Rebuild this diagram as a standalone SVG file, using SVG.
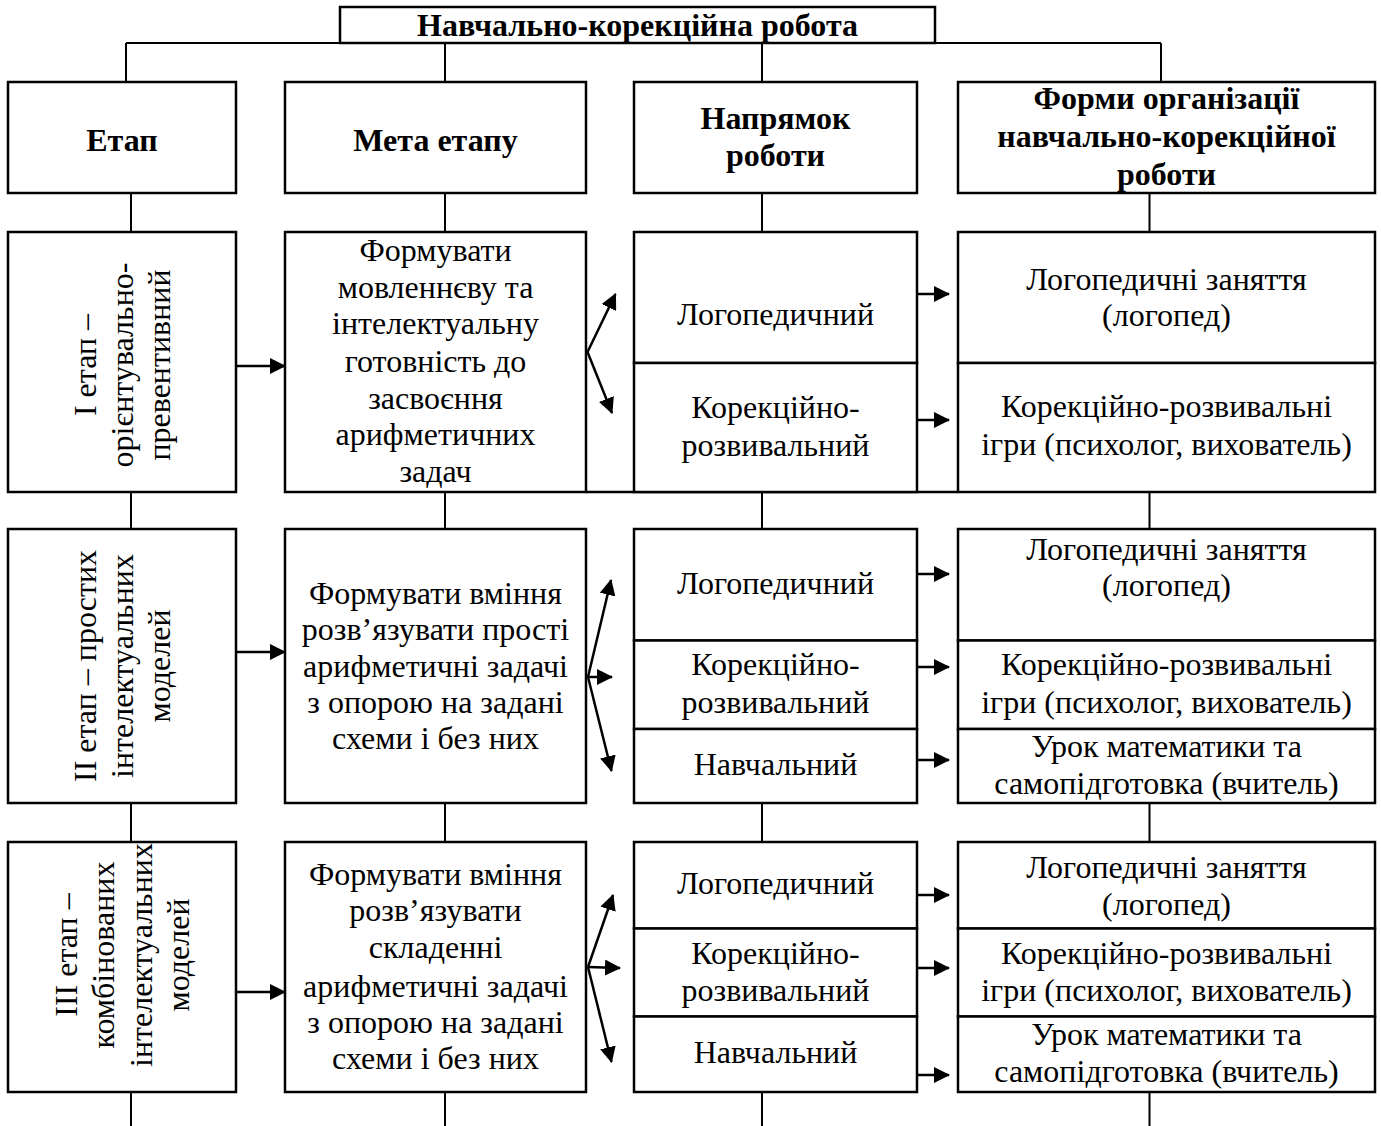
<svg xmlns="http://www.w3.org/2000/svg" width="1381" height="1126" viewBox="0 0 1381 1126">
<style>
.box{fill:#fff;stroke:#000;stroke-width:2.5}
.ln{stroke:#000;stroke-width:2;fill:none}
.ar{stroke:#000;stroke-width:2.5;fill:none;marker-end:url(#ah)}
text{font-family:"Liberation Serif","Times New Roman",serif;font-size:32px;fill:#000;text-anchor:middle}
.b{font-weight:bold}
</style>
<defs>
<marker id="ah" markerWidth="16" markerHeight="16" refX="15" refY="8" orient="auto" markerUnits="userSpaceOnUse"><path d="M0,0 L16,8 L0,16 z" fill="#000"/></marker>
</defs>
<rect width="1381" height="1126" fill="#fff"/>
<g id="connectors">
<path class="ln" d="M126,43 H1161 M126,43 V82 M445,43 V82 M762,43 V82 M1161,43 V82"/>
<path class="ln" d="M131,193 V232 M445,193 V232 M762,193 V232 M1149.5,193 V232"/>
<path class="ln" d="M131,492 V529 M445,492 V529 M762,492 V529 M1149.5,492 V529"/>
<path class="ln" d="M131,803 V842 M445,803 V842 M762,803 V842 M1149.5,803 V842"/>
<path class="ln" d="M131,1092 V1126 M445,1092 V1126 M762,1092 V1126 M1149.5,1092 V1126"/>
<path class="ln" d="M586,492 H958" style="stroke-width:2.5"/>
<line class="ar" x1="236" y1="366" x2="285" y2="366"/>
<line class="ar" x1="236" y1="652" x2="285" y2="652"/>
<line class="ar" x1="236" y1="992" x2="285" y2="992"/>
<line class="ar" x1="587.5" y1="352" x2="615.5" y2="294"/>
<line class="ar" x1="587.5" y1="352" x2="612" y2="413"/>
<line class="ar" x1="588" y1="677" x2="611" y2="580"/>
<line class="ar" x1="588" y1="677" x2="612" y2="677"/>
<line class="ar" x1="588" y1="677" x2="611.5" y2="771"/>
<line class="ar" x1="588" y1="967" x2="613" y2="895"/>
<line class="ar" x1="588" y1="967" x2="620" y2="968"/>
<line class="ar" x1="588" y1="967" x2="611.5" y2="1062"/>
<line class="ar" x1="918" y1="294" x2="949" y2="294"/>
<line class="ar" x1="918" y1="420" x2="949" y2="420"/>
<line class="ar" x1="918" y1="574" x2="949" y2="574"/>
<line class="ar" x1="918" y1="667" x2="949" y2="667"/>
<line class="ar" x1="918" y1="760" x2="949" y2="760"/>
<line class="ar" x1="918" y1="895" x2="949" y2="895"/>
<line class="ar" x1="918" y1="968" x2="949" y2="968"/>
<line class="ar" x1="918" y1="1075" x2="949" y2="1075"/>
</g>
<g id="root"><rect class="box" x="340" y="7" width="595" height="36"/><text class="b" x="637.5" y="36">Навчально-корекційна робота</text></g>
<g id="h-etap"><rect class="box" x="8" y="82" width="228" height="111"/><text class="b" x="122" y="151">Етап</text></g>
<g id="h-meta"><rect class="box" x="285" y="82" width="301" height="111"/><text class="b" x="435.5" y="151">Мета етапу</text></g>
<g id="h-napr"><rect class="box" x="634" y="82" width="283" height="111"/><text class="b" x="775.5" y="129">Напрямок</text><text class="b" x="775.5" y="166">роботи</text></g>
<g id="h-formy"><rect class="box" x="958" y="82" width="417" height="111"/><text class="b" x="1166.5" y="109">Форми організації</text><text class="b" x="1166.5" y="147">навчально-корекційної</text><text class="b" x="1166.5" y="185">роботи</text></g>

<g id="r1-etap"><rect class="box" x="8" y="232" width="228" height="260"/><g transform="translate(133,365) rotate(-90)"><text y="-37">I етап –</text><text y="0">орієнтувально-</text><text y="37">превентивний</text></g></g>
<g id="r1-meta"><rect class="box" x="285" y="232" width="301" height="260"/><text x="435.5" y="261">Формувати</text><text x="435.5" y="298">мовленнєву та</text><text x="435.5" y="334">інтелектуальну</text><text x="435.5" y="372">готовність до</text><text x="435.5" y="409">засвоєння</text><text x="435.5" y="445">арифметичних</text><text x="435.5" y="482">задач</text></g>
<g id="r1-n1"><rect class="box" x="634" y="232" width="283" height="131"/><text x="775.5" y="325">Логопедичний</text></g>
<g id="r1-n2"><rect class="box" x="634" y="363" width="283" height="129"/><text x="775.5" y="418">Корекційно-</text><text x="775.5" y="456">розвивальний</text></g>
<g id="r1-f1"><rect class="box" x="958" y="232" width="417" height="131"/><text x="1166.5" y="290">Логопедичні заняття</text><text x="1166.5" y="326">(логопед)</text></g>
<g id="r1-f2"><rect class="box" x="958" y="363" width="417" height="129"/><text x="1166.5" y="417">Корекційно-розвивальні</text><text x="1166.5" y="455">ігри (психолог, вихователь)</text></g>

<g id="r2-etap"><rect class="box" x="8" y="529" width="228" height="274"/><g transform="translate(133,666) rotate(-90)"><text y="-37">II етап – простих</text><text y="0">інтелектуальних</text><text y="37">моделей</text></g></g>
<g id="r2-meta"><rect class="box" x="285" y="529" width="301" height="274"/><text x="435.5" y="604">Формувати вміння</text><text x="435.5" y="640">розв’язувати прості</text><text x="435.5" y="677">арифметичні задачі</text><text x="435.5" y="713">з опорою на задані</text><text x="435.5" y="749">схеми і без них</text></g>
<g id="r2-n1"><rect class="box" x="634" y="529" width="283" height="111.5"/><text x="775.5" y="594">Логопедичний</text></g>
<g id="r2-n2"><rect class="box" x="634" y="640.5" width="283" height="88.5"/><text x="775.5" y="674.5">Корекційно-</text><text x="775.5" y="712.5">розвивальний</text></g>
<g id="r2-n3"><rect class="box" x="634" y="729" width="283" height="74"/><text x="775.5" y="774.5">Навчальний</text></g>
<g id="r2-f1"><rect class="box" x="958" y="529" width="417" height="111.5"/><text x="1166.5" y="559.5">Логопедичні заняття</text><text x="1166.5" y="596">(логопед)</text></g>
<g id="r2-f2"><rect class="box" x="958" y="640.5" width="417" height="88.5"/><text x="1166.5" y="674.5">Корекційно-розвивальні</text><text x="1166.5" y="712.5">ігри (психолог, вихователь)</text></g>
<g id="r2-f3"><rect class="box" x="958" y="729" width="417" height="74"/><text x="1166.5" y="757">Урок математики та</text><text x="1166.5" y="794">самопідготовка (вчитель)</text></g>

<g id="r3-etap"><rect class="box" x="8" y="842" width="228" height="250"/><g transform="translate(133,955) rotate(-90)"><text y="-56">III етап –</text><text y="-18.7">комбінованих</text><text y="18.7">інтелектуальних</text><text y="56">моделей</text></g></g>
<g id="r3-meta"><rect class="box" x="285" y="842" width="301" height="250"/><text x="435.5" y="885">Формувати вміння</text><text x="435.5" y="921">розв’язувати</text><text x="435.5" y="958">складенні</text><text x="435.5" y="997">арифметичні задачі</text><text x="435.5" y="1033">з опорою на задані</text><text x="435.5" y="1069">схеми і без них</text></g>
<g id="r3-n1"><rect class="box" x="634" y="842" width="283" height="86.5"/><text x="775.5" y="894">Логопедичний</text></g>
<g id="r3-n2"><rect class="box" x="634" y="928.5" width="283" height="88"/><text x="775.5" y="964">Корекційно-</text><text x="775.5" y="1001">розвивальний</text></g>
<g id="r3-n3"><rect class="box" x="634" y="1016.5" width="283" height="75.5"/><text x="775.5" y="1063">Навчальний</text></g>
<g id="r3-f1"><rect class="box" x="958" y="842" width="417" height="86.5"/><text x="1166.5" y="878">Логопедичні заняття</text><text x="1166.5" y="914.5">(логопед)</text></g>
<g id="r3-f2"><rect class="box" x="958" y="928.5" width="417" height="88"/><text x="1166.5" y="964">Корекційно-розвивальні</text><text x="1166.5" y="1001">ігри (психолог, вихователь)</text></g>
<g id="r3-f3"><rect class="box" x="958" y="1016.5" width="417" height="75.5"/><text x="1166.5" y="1045">Урок математики та</text><text x="1166.5" y="1082">самопідготовка (вчитель)</text></g>
</svg>
